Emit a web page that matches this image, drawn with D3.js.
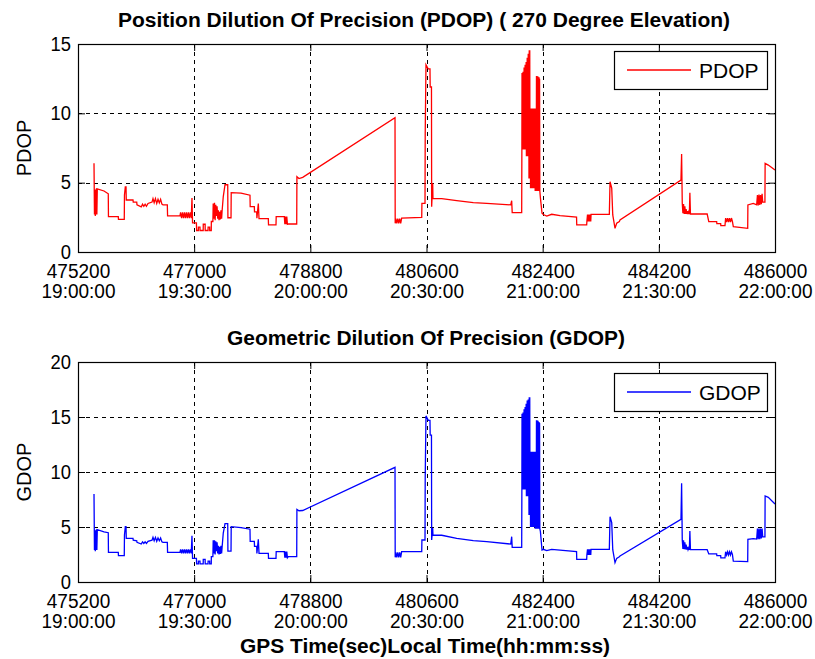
<!DOCTYPE html>
<html>
<head>
<meta charset="utf-8">
<script src="https://cdn.jsdelivr.net/npm/d3@7"></script>
<style>
  body { margin: 0; background: #fff; }
  text { font-family: "Liberation Sans", Arial, Helvetica, sans-serif; fill: #000; }
</style>
</head>
<body>
<script>
// GPS time of week (s) and the dilution-of-precision values logged at each sample
const gpsSec = [
  475448,475455,475462,475468,475474,475480,475486,475492,475499,
  475603,475669,475672,475824,475827,475917,475920,475933,475944,475948,
  476052,476056,476110,476114,476180,476200,476220,476240,476260,476285,
  476347,476362,476380,476400,476420,476440,476460,476480,476500,476517,
  476584,476588,476780,476790,476805,476820,476835,476850,476865,476880,
  476895,476910,476925,476940,476955,476966,476975,477035,477038,477065,
  477066,477090,477091,477140,477141,477170,477171,477215,477216,477240,
  477241,477265,477266,477290,477295,477305,477315,477325,477335,477345,
  477355,477365,477375,477385,477395,477405,477415,477425,477432,477451,
  477478,477520,477523,477571,477574,477726,477865,477868,477932,477935,
  477969,477972,477994,478005,478149,478152,478268,478271,478397,478405,
  478415,478425,478435,478445,478459,478589,478592,478624,478682,480112,
  480115,480125,480140,480155,480170,480185,480200,480215,480526,480529,
  480577,480580,480592,480628,480654,480657,480677,480680,480696,480700,
  480836,481068,481325,481533,481905,481920,481928,482075,482078,
  482080,482084,482088,482092,482096,482100,482104,482108,482112,482116,
  482120,482124,482128,482132,482136,482140,482144,482148,482152,482156,
  482160,482164,482168,482172,482176,482180,482184,482188,482192,482196,
  482200,482204,482208,482212,482216,482220,482224,482228,482232,482236,
  482240,482244,482248,482252,482256,482260,482264,482268,482272,482276,
  482280,482284,482288,482292,482296,482300,482304,482308,482312,482316,
  482320,482324,482328,482332,482336,482340,482344,482348,482352,482356,
  482365,482390,482410,482463,482540,
  482669,482925,482928,483082,483085,483095,483105,483115,483125,483135,
  483145,483150,483433,483444,483470,483486,483521,483547,483588,483598,
  484543,484553,484563,484573,484583,484593,484603,484613,484623,484633,
  484643,484653,484663,484673,484681,484690,484949,484974,485096,485099,
  485158,485161,485225,485235,485250,485265,485280,485295,485310,485325,
  485340,485354,485577,485580,485664,485716,485728,485740,485752,485764,
  485776,485788,485800,485809,485844,485847,485896,486000
];

const pdopVal = [
  6.4,2.7,4.5,2.6,4.5,2.7,4.6,2.7,4.55,
  4.4,4.2,2.55,2.55,2.35,2.35,4.1,4.7,4.7,3.75,
  3.75,3.6,3.6,3.4,3.25,3.45,3.3,3.45,3.3,3.5,
  3.6,3.85,3.55,3.85,3.5,3.8,3.55,3.8,3.45,3.4,
  3.4,2.6,2.6,2.85,2.45,2.85,2.45,2.85,2.45,2.85,
  2.45,2.85,2.45,2.85,2.45,3.9,2.1,2.1,1.55,1.55,
  1.8,1.8,1.55,1.55,2.0,2.0,1.55,1.55,1.8,1.8,
  1.55,1.55,2.2,2.2,3.5,2.4,3.55,2.3,3.4,2.6,
  3.3,2.4,3.0,2.3,2.9,2.35,3.0,2.4,2.9,4.0,
  4.85,4.85,2.47,2.47,4.28,4.25,4.1,3.27,3.27,2.9,
  2.9,2.43,3.5,2.4,2.4,1.95,1.95,2.55,2.55,2.0,
  2.55,2.0,2.55,2.0,2.02,2.02,5.43,5.3,5.38,9.68,
  2.07,2.4,2.07,2.4,2.07,2.4,2.07,2.45,2.5,3.5,
  3.5,8.43,13.5,13.2,13.2,11.9,11.9,3.27,4.95,3.87,
  3.85,3.7,3.56,3.5,3.4,3.7,2.84,2.84,7.7,
  12.9,7.4,12.9,7.4,13.0,7.4,13.0,7.4,13.3,7.4,
  13.3,7.4,13.5,7.4,13.5,7.4,13.7,6.9,13.7,6.9,
  14.0,6.9,14.0,6.9,14.3,6.9,14.3,5.3,14.55,5.3,
  14.55,5.3,10.35,4.6,10.35,4.6,10.35,4.6,10.35,4.6,
  10.35,4.6,10.35,4.6,10.35,4.6,10.35,4.6,10.35,4.6,
  10.35,4.4,10.35,4.4,10.35,4.4,12.7,4.4,12.7,4.4,
  12.65,4.4,12.65,4.4,12.6,4.4,12.6,4.4,12.5,4.4,
  3.9,2.8,2.7,2.59,2.72,
  2.62,2.52,1.95,1.95,2.2,2.7,2.2,2.7,2.2,2.7,
  2.2,2.72,2.72,5.07,4.6,2.67,1.71,2.07,2.19,2.31,
  5.19,7.07,3.51,2.8,3.45,2.75,3.3,2.75,3.1,2.74,
  2.95,2.74,2.9,2.74,4.28,2.74,2.74,2.19,2.19,2.05,
  2.05,1.9,1.9,2.45,2.15,2.45,2.15,2.45,2.15,2.45,
  2.2,1.83,1.71,3.39,3.5,3.4,4.1,3.35,4.15,3.4,
  4.1,3.45,4.2,3.6,3.6,6.39,6.27,5.91
];

const gdopVal = [
  8.0,2.9,4.7,2.8,4.7,2.9,4.8,2.9,4.75,
  4.55,4.48,2.7,2.7,2.4,2.4,4.27,5.03,5.03,3.97,
  3.97,3.8,3.75,3.6,3.45,3.65,3.5,3.65,3.5,3.7,
  3.8,4.06,3.75,4.06,3.7,4.0,3.75,4.0,3.65,3.6,
  3.6,2.7,2.7,2.97,2.6,2.97,2.6,2.97,2.6,2.97,
  2.6,2.97,2.6,2.97,2.6,4.2,2.15,2.15,1.65,1.65,
  1.9,1.9,1.65,1.65,2.05,2.05,1.65,1.65,1.9,1.9,
  1.65,1.65,2.3,2.3,3.8,2.6,3.8,2.5,3.7,2.8,
  3.6,2.6,3.3,2.5,3.2,2.55,3.3,2.6,3.1,4.45,
  5.3,5.3,2.8,2.8,5.03,4.95,4.8,3.7,3.7,3.24,
  3.24,2.6,3.88,2.6,2.6,2.15,2.15,2.76,2.76,2.2,
  2.76,2.2,2.76,2.2,2.3,2.3,6.6,6.48,6.5,10.42,
  2.24,2.7,2.24,2.7,2.24,2.7,2.24,2.76,2.76,3.82,
  3.82,9.42,15.1,14.7,14.7,13.36,13.36,3.82,4.9,4.27,
  4.25,3.97,3.76,3.67,3.45,4.12,3.15,3.15,8.82,
  15.3,8.4,15.3,8.4,15.4,8.4,15.4,8.4,15.7,8.4,
  15.7,8.4,15.9,8.4,15.9,8.4,16.2,7.8,16.2,7.8,
  16.5,7.8,16.5,7.8,16.6,7.8,16.6,6.1,16.8,6.1,
  16.8,6.1,11.85,5.0,11.85,5.0,11.85,5.0,11.85,5.0,
  11.85,5.0,11.85,5.0,11.85,5.0,11.85,5.0,11.85,5.0,
  11.85,4.85,11.85,4.85,11.85,4.85,14.7,4.85,14.7,4.85,
  14.65,4.85,14.65,4.85,14.55,4.85,14.55,4.85,14.45,4.85,
  4.58,2.91,2.97,2.85,2.97,
  2.9,2.76,2.06,2.06,2.45,2.97,2.45,2.97,2.45,2.97,
  2.45,2.97,2.97,5.94,5.4,2.94,1.76,2.15,2.3,2.36,
  5.7,8.97,3.82,3.0,3.8,2.98,3.6,2.96,3.4,2.95,
  3.2,2.94,3.1,2.94,4.64,2.94,2.94,2.55,2.55,2.4,
  2.4,2.2,2.2,2.75,2.45,2.75,2.45,2.75,2.45,2.75,
  2.5,1.9,1.85,3.88,3.95,3.9,4.85,3.88,4.85,3.9,
  4.85,3.95,4.85,4.1,4.1,7.82,7.7,7.09
];

// Axis tick values and labels
const gpsTicks = [475200, 477000, 478800, 480600, 482400, 484200, 486000];
const localTicks = ["19:00:00", "19:30:00", "20:00:00", "20:30:00", "21:00:00", "21:30:00", "22:00:00"];
const pdopTicks = [0, 5, 10, 15];
const gdopTicks = [0, 5, 10, 15, 20];

const W = 815, H = 659;
const L = 78, R = 775;

const svg = d3.select("body").append("svg")
  .attr("width", W).attr("height", H);

const x = d3.scaleLinear().domain([475200, 486000]).range([L, R]);

// Narrow a text element horizontally by factor k
function squeeze(sel, k) {
  sel.each(function () {
    const w = this.getComputedTextLength();
    d3.select(this).attr("textLength", w * k).attr("lengthAdjust", "spacingAndGlyphs");
  });
}

function panel(cfg) {
  const y = d3.scaleLinear().domain([0, cfg.yTicks[cfg.yTicks.length - 1]])
    .range([cfg.bottom, cfg.top]);
  const g = svg.append("g");

  // background
  g.append("rect").attr("x", L).attr("y", cfg.top)
    .attr("width", R - L).attr("height", cfg.bottom - cfg.top).attr("fill", "#fff");

  // dashed grid
  g.append("g").selectAll("line").data(gpsTicks.slice(1, -1)).join("line")
    .attr("x1", d => Math.round(x(d)) + 0.5).attr("x2", d => Math.round(x(d)) + 0.5)
    .attr("y1", cfg.top).attr("y2", cfg.bottom)
    .attr("stroke", "#000").attr("stroke-width", 1).attr("stroke-dasharray", "4,4");
  g.append("g").selectAll("line").data(cfg.yTicks.slice(1, -1)).join("line")
    .attr("x1", L).attr("x2", R)
    .attr("y1", d => Math.round(y(d)) + 0.5).attr("y2", d => Math.round(y(d)) + 0.5)
    .attr("stroke", "#000").attr("stroke-width", 1).attr("stroke-dasharray", "4,4");

  // series
  const line = d3.line().x((d, i) => x(gpsSec[i])).y(d => y(d));
  g.append("path").datum(cfg.values)
    .attr("d", line)
    .attr("fill", "none")
    .attr("stroke", cfg.color)
    .attr("stroke-width", 1.3)
    .attr("stroke-linejoin", "miter");

  // axes with inward ticks
  const xb = g.append("g").attr("transform", `translate(0,${cfg.bottom})`)
    .call(d3.axisBottom(x).tickValues(gpsTicks).tickSizeInner(-7).tickSizeOuter(0)
      .tickPadding(0).tickFormat(d3.format("d")));
  xb.select(".domain").remove();
  xb.selectAll("line").attr("stroke", "#000");
  xb.selectAll("text")
    .attr("dy", null).attr("y", 26)
    .style("font-size", "20px").attr("fill", "#000");
  xb.selectAll(".tick").append("text")
    .attr("y", 46).attr("text-anchor", "middle")
    .style("font-size", "20px").attr("fill", "#000")
    .text((d, i) => localTicks[i]);
  squeeze(xb.selectAll("text"), 0.95);

  const xt = g.append("g").attr("transform", `translate(0,${cfg.top})`)
    .call(d3.axisTop(x).tickValues(gpsTicks).tickSizeInner(-7).tickSizeOuter(0).tickFormat(""));
  xt.select(".domain").remove();

  const yl = g.append("g").attr("transform", `translate(${L},0)`)
    .call(d3.axisLeft(y).tickValues(cfg.yTicks).tickSizeInner(-7).tickSizeOuter(0)
      .tickPadding(0).tickFormat(d3.format("d")));
  yl.select(".domain").remove();
  yl.selectAll("text").attr("x", -7).attr("dy", "0.3em")
    .style("font-size", "20px").attr("fill", "#000");
  squeeze(yl.selectAll("text"), 0.92);

  const yr = g.append("g").attr("transform", `translate(${R},0)`)
    .call(d3.axisRight(y).tickValues(cfg.yTicks).tickSizeInner(-7).tickSizeOuter(0).tickFormat(""));
  yr.select(".domain").remove();

  // frame
  g.append("rect").attr("x", L + 0.5).attr("y", cfg.top + 0.5)
    .attr("width", R - L).attr("height", cfg.bottom - cfg.top)
    .attr("fill", "none").attr("stroke", "#000").attr("stroke-width", 1.2);

  // legend
  const lg = g.append("g");
  lg.append("rect").attr("x", 614.5).attr("y", cfg.legendTop + 0.5)
    .attr("width", 153).attr("height", 38)
    .attr("fill", "#fff").attr("stroke", "#000").attr("stroke-width", 1.2);
  lg.append("line").attr("x1", 627).attr("x2", 691)
    .attr("y1", cfg.legendTop + 19).attr("y2", cfg.legendTop + 19)
    .attr("stroke", cfg.color).attr("stroke-width", 1.3);
  lg.append("text").attr("x", 699).attr("y", cfg.legendTop + 27)
    .style("font-size", "21px").text(cfg.name);

  // y label
  g.append("text")
    .attr("transform", `translate(31,${(cfg.top + cfg.bottom) / 2}) rotate(-90)`)
    .attr("text-anchor", "middle").style("font-size", "20px").text(cfg.name);

  // title
  g.append("text").attr("x", cfg.titleX).attr("y", cfg.top - 17)
    .attr("text-anchor", "middle").style("font-size", "20px").style("font-weight", "bold")
    .attr("textLength", cfg.titleLen).attr("lengthAdjust", "spacingAndGlyphs")
    .text(cfg.title);
}

panel({
  top: 44, bottom: 252, yTicks: pdopTicks, values: pdopVal, color: "#ff0000",
  name: "PDOP", legendTop: 51,
  title: "Position Dilution Of Precision (PDOP) ( 270 Degree Elevation)",
  titleX: 424, titleLen: 612
});

panel({
  top: 362, bottom: 582, yTicks: gdopTicks, values: gdopVal, color: "#0000ff",
  name: "GDOP", legendTop: 373,
  title: "Geometric Dilution Of Precision (GDOP)",
  titleX: 426, titleLen: 398
});

svg.append("text").attr("x", 425).attr("y", 653)
  .attr("text-anchor", "middle").style("font-size", "20px").style("font-weight", "bold")
  .attr("textLength", 370).attr("lengthAdjust", "spacingAndGlyphs")
  .text("GPS Time(sec)Local Time(hh:mm:ss)");
</script>
</body>
</html>
